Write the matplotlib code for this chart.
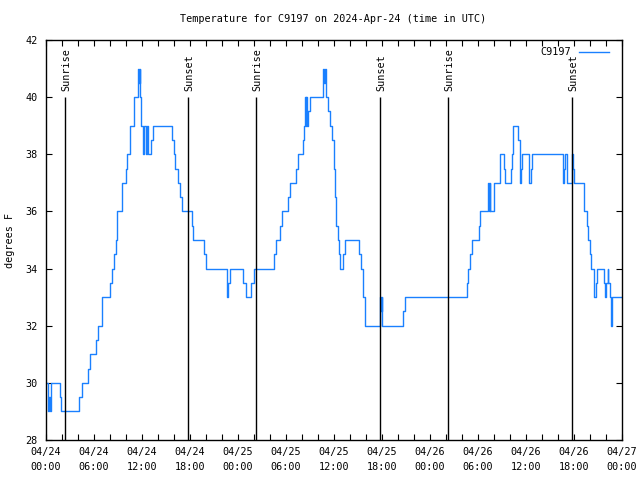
import matplotlib
matplotlib.use('Agg')
import matplotlib.pyplot as plt
from matplotlib.ticker import MultipleLocator

plt.rcParams['font.family'] = 'DejaVu Sans Mono'
plt.rcParams['font.size'] = 7.3

# hours since 2024-04-24 00:00 UTC, and the temperature (F) from that hour on
hours = [
    0.0, 0.2, 0.3, 0.4, 0.5, 0.65, 1.7, 1.9, 4.15, 4.45, 5.2, 5.45, 6.2, 6.45,
    6.95, 7.05, 8.05, 8.2, 8.55, 8.7, 8.85, 9.45, 9.55, 10.05, 10.15, 10.5,
    11.05, 11.55, 11.65, 11.75, 11.8, 11.9, 12.1, 12.2, 12.3, 12.45, 12.6,
    12.75, 13.1, 13.35, 15.7, 15.95, 16.15, 16.5, 16.8, 16.95, 18.2, 18.4,
    19.7, 19.95, 22.6, 22.75, 22.95,
    24.65, 24.95, 25.6, 25.95, 28.5, 28.7, 29.2, 29.45, 30.2, 30.45, 31.2,
    31.45, 32.1, 32.25, 32.35, 32.45, 32.55, 32.65, 32.75, 32.95, 34.6, 34.65,
    34.75, 34.85, 34.95, 35.3, 35.55, 35.8, 35.95, 36.05, 36.15, 36.3, 36.45,
    36.6, 36.75, 37.15, 37.35, 39.15, 39.35, 39.6, 39.85, 41.75, 41.85, 41.95,
    42.05, 44.6, 44.85,
    52.65, 52.8, 53.0, 53.3, 54.1, 54.3, 55.2, 55.35, 55.45, 55.55, 55.95,
    56.05, 56.7, 56.8, 57.2, 57.35, 58.15, 58.25, 58.35, 59.05, 59.2, 59.3,
    59.4, 59.5, 60.4, 60.6, 60.75, 64.65, 64.8, 64.9, 65.1, 65.75, 65.85,
    65.95, 67.2, 67.3, 67.65, 67.8, 67.95, 68.1, 68.55, 68.75, 68.85, 69.7,
    69.85, 70.05, 70.2, 70.3, 70.45, 70.6, 70.75, 72.0,
]
temps = [
    30, 29.5, 29, 29.5, 29, 30, 29.5, 29, 29.5, 30, 30.5, 31, 31.5, 32,
    32.5, 33, 33.5, 34, 34.5, 35, 36, 36.5, 37, 37.5, 38, 39,
    40, 41, 40.5, 41, 40, 39, 38, 38.5, 39, 38, 39,
    38, 38.5, 39, 38.5, 38, 37.5, 37, 36.5, 36, 35.5, 35,
    34.5, 34, 33, 33.5, 34,
    33.5, 33, 33.5, 34, 34.5, 35, 35.5, 36, 36.5, 37, 37.5,
    38, 38.5, 39, 40, 39, 40, 39, 39.5, 40, 40.5, 41,
    40.5, 41, 40, 39.5, 39, 38.5, 38, 37.5, 36.5, 35.5, 35,
    34.5, 34, 34.5, 35, 34.5, 34, 33, 32, 33, 32.5, 33,
    32, 32.5, 33,
    33.5, 34, 34.5, 35, 35.5, 36, 37, 36, 37, 36, 36.5,
    37, 37.5, 38, 37.5, 37, 37.5, 38, 39, 38.5, 38, 37,
    37.5, 38, 37, 37.5, 38, 37, 37.5, 38, 37, 38, 37.5,
    37, 36.5, 36, 35.5, 35, 34.5, 34, 33, 33.5, 34, 33.5,
    33, 33.5, 34, 33.5, 33, 32, 33, 33,
]

sunrise_hours = [2.4, 26.3, 50.3]
sunset_hours = [17.8, 41.8, 65.8]

tick_hours = list(range(0, 73, 6))
tick_labels = [
    '04/24\n00:00', '04/24\n06:00', '04/24\n12:00', '04/24\n18:00',
    '04/25\n00:00', '04/25\n06:00', '04/25\n12:00', '04/25\n18:00',
    '04/26\n00:00', '04/26\n06:00', '04/26\n12:00', '04/26\n18:00',
    '04/27\n00:00',
]
y_ticks = [28, 30, 32, 34, 36, 38, 40, 42]

fig = plt.figure(figsize=(6.4, 4.8), dpi=100)
ax = fig.add_axes([46 / 640, 40 / 480, 576 / 640, 400 / 480])

ax.plot(hours, temps, drawstyle='steps-post', color='#1a80ff', lw=1.0,
        label='C9197')

ax.vlines(sunrise_hours, 28, 40, color='black', lw=1.0)
ax.vlines(sunset_hours, 28, 40, color='black', lw=1.0)
for h in sunrise_hours:
    ax.text(h + 0.1, 40.2, 'Sunrise', rotation=90, ha='center', va='bottom')
for h in sunset_hours:
    ax.text(h + 0.1, 40.2, 'Sunset', rotation=90, ha='center', va='bottom')

ax.set_xlim(0, 72)
ax.set_ylim(28, 42)
ax.set_xticks(tick_hours)
ax.set_xticklabels(tick_labels)
ax.xaxis.set_minor_locator(MultipleLocator(2))
ax.set_yticks(y_ticks)
ax.set_yticklabels([str(v) for v in y_ticks])
for t in ax.get_xticklabels():
    t.set_linespacing(1.6)

ax.tick_params(which='both', direction='in', top=True, right=True,
               length=4, width=0.8, color='black')
ax.tick_params(axis='x', pad=5)
ax.tick_params(axis='y', pad=6)
for s in ax.spines.values():
    s.set_linewidth(1.0)

fig.text(10 / 640, 1 - 240 / 480, 'degrees F', rotation=90,
         ha='center', va='center')
fig.text(333 / 640, 1 - 19 / 480,
         'Temperature for C9197 on 2024-Apr-24 (time in UTC)',
         ha='center', va='center')

ax.legend(loc='upper right', frameon=False, markerfirst=False,
          handlelength=3.0, handletextpad=0.8, borderaxespad=0.3,
          bbox_to_anchor=(0.99, 1.0))

fig.savefig('out.png', dpi=100)
